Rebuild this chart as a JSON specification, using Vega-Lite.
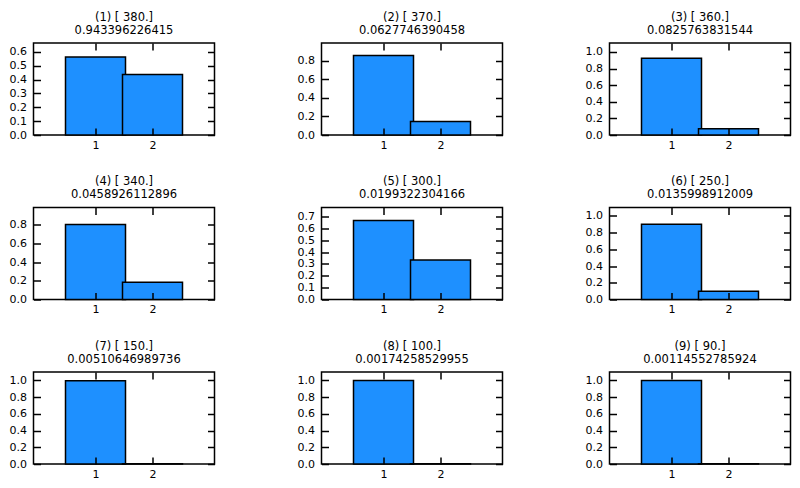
{
  "$schema": "https://vega.github.io/schema/vega-lite/v6.json",
  "padding": {"left": 7.5, "top": 11, "right": 0, "bottom": 0},
  "background": "white",
  "datasets": {
    "bars": [
      {"panel": 1, "x": 1, "p": 0.563}, {"panel": 1, "x": 2, "p": 0.437},
      {"panel": 2, "x": 1, "p": 0.855}, {"panel": 2, "x": 2, "p": 0.145},
      {"panel": 3, "x": 1, "p": 0.925}, {"panel": 3, "x": 2, "p": 0.075},
      {"panel": 4, "x": 1, "p": 0.805}, {"panel": 4, "x": 2, "p": 0.185},
      {"panel": 5, "x": 1, "p": 0.667}, {"panel": 5, "x": 2, "p": 0.333},
      {"panel": 6, "x": 1, "p": 0.9}, {"panel": 6, "x": 2, "p": 0.1},
      {"panel": 7, "x": 1, "p": 0.996}, {"panel": 7, "x": 2, "p": 0.004},
      {"panel": 8, "x": 1, "p": 0.998}, {"panel": 8, "x": 2, "p": 0.002},
      {"panel": 9, "x": 1, "p": 0.998}, {"panel": 9, "x": 2, "p": 0.002}
    ]
  },
  "config": {
    "font": "DejaVu Sans",
    "view": {"stroke": "black", "strokeWidth": 1.5},
    "axis": {"domain": false, "grid": false, "labelFont": "DejaVu Sans", "labelFontSize": 11, "labelColor": "black", "title": null},
    "title": {"font": "DejaVu Sans", "fontSize": 11.5, "fontWeight": "normal", "color": "black", "lineHeight": 13, "offset": 6, "anchor": "middle"}
  },
  "columns": 3,
  "spacing": {"row": 72.5, "column": 107},
  "bounds": "flush",
  "concat": [
    {"title": {"text": ["(1) [ 380.]", "0.943396226415"]}, "width": 181, "height": 92, "data": {"name": "bars"}, "transform": [{"filter": "datum.panel == 1"}],
     "layer": [
      {"mark": {"type": "bar", "width": 60, "fill": "#1E90FF", "stroke": "black", "strokeWidth": 1.5},
       "encoding": {"x": {"field": "x", "type": "quantitative", "scale": {"domain": [0, 3], "nice": false}, "axis": {"values": [1, 2], "format": "d", "orient": "bottom", "ticks": true, "tickColor": "black", "tickSize": 7, "tickWidth": 1.5, "offset": -7, "labelPadding": 4, "zindex": 1}},
                    "y": {"field": "p", "type": "quantitative", "scale": {"domain": [0, 0.665], "nice": false}, "axis": {"values": [0, 0.1, 0.2, 0.3, 0.4, 0.5, 0.6], "format": ".1f", "orient": "left", "ticks": true, "tickColor": "black", "tickSize": 7, "tickWidth": 1.5, "offset": -7, "labelPadding": 7, "zindex": 1}}}},
      {"mark": {"type": "bar", "width": 60, "opacity": 0},
       "encoding": {"x": {"field": "x", "type": "quantitative", "axis": {"values": [1, 2], "labels": false, "orient": "top", "ticks": true, "tickColor": "black", "tickSize": 7, "tickWidth": 1.5, "offset": -7, "zindex": 1}},
                    "y": {"field": "p", "type": "quantitative", "axis": {"values": [0, 0.1, 0.2, 0.3, 0.4, 0.5, 0.6], "labels": false, "orient": "right", "ticks": true, "tickColor": "black", "tickSize": 7, "tickWidth": 1.5, "offset": -7, "zindex": 1}}}}
     ], "resolve": {"axis": {"x": "independent", "y": "independent"}}},
    {"title": {"text": ["(2) [ 370.]", "0.0627746390458"]}, "width": 181, "height": 92, "data": {"name": "bars"}, "transform": [{"filter": "datum.panel == 2"}],
     "layer": [
      {"mark": {"type": "bar", "width": 60, "fill": "#1E90FF", "stroke": "black", "strokeWidth": 1.5},
       "encoding": {"x": {"field": "x", "type": "quantitative", "scale": {"domain": [0, 3], "nice": false}, "axis": {"values": [1, 2], "format": "d", "orient": "bottom", "ticks": true, "tickColor": "black", "tickSize": 7, "tickWidth": 1.5, "offset": -7, "labelPadding": 4, "zindex": 1}},
                    "y": {"field": "p", "type": "quantitative", "scale": {"domain": [0, 0.99], "nice": false}, "axis": {"values": [0, 0.2, 0.4, 0.6, 0.8], "format": ".1f", "orient": "left", "ticks": true, "tickColor": "black", "tickSize": 7, "tickWidth": 1.5, "offset": -7, "labelPadding": 7, "zindex": 1}}}},
      {"mark": {"type": "bar", "width": 60, "opacity": 0},
       "encoding": {"x": {"field": "x", "type": "quantitative", "axis": {"values": [1, 2], "labels": false, "orient": "top", "ticks": true, "tickColor": "black", "tickSize": 7, "tickWidth": 1.5, "offset": -7, "zindex": 1}},
                    "y": {"field": "p", "type": "quantitative", "axis": {"values": [0, 0.2, 0.4, 0.6, 0.8], "labels": false, "orient": "right", "ticks": true, "tickColor": "black", "tickSize": 7, "tickWidth": 1.5, "offset": -7, "zindex": 1}}}}
     ], "resolve": {"axis": {"x": "independent", "y": "independent"}}},
    {"title": {"text": ["(3) [ 360.]", "0.0825763831544"]}, "width": 181, "height": 92, "data": {"name": "bars"}, "transform": [{"filter": "datum.panel == 3"}],
     "layer": [
      {"mark": {"type": "bar", "width": 60, "fill": "#1E90FF", "stroke": "black", "strokeWidth": 1.5},
       "encoding": {"x": {"field": "x", "type": "quantitative", "scale": {"domain": [0, 3], "nice": false}, "axis": {"values": [1, 2], "format": "d", "orient": "bottom", "ticks": true, "tickColor": "black", "tickSize": 7, "tickWidth": 1.5, "offset": -7, "labelPadding": 4, "zindex": 1}},
                    "y": {"field": "p", "type": "quantitative", "scale": {"domain": [0, 1.108], "nice": false}, "axis": {"values": [0, 0.2, 0.4, 0.6, 0.8, 1.0], "format": ".1f", "orient": "left", "ticks": true, "tickColor": "black", "tickSize": 7, "tickWidth": 1.5, "offset": -7, "labelPadding": 7, "zindex": 1}}}},
      {"mark": {"type": "bar", "width": 60, "opacity": 0},
       "encoding": {"x": {"field": "x", "type": "quantitative", "axis": {"values": [1, 2], "labels": false, "orient": "top", "ticks": true, "tickColor": "black", "tickSize": 7, "tickWidth": 1.5, "offset": -7, "zindex": 1}},
                    "y": {"field": "p", "type": "quantitative", "axis": {"values": [0, 0.2, 0.4, 0.6, 0.8, 1.0], "labels": false, "orient": "right", "ticks": true, "tickColor": "black", "tickSize": 7, "tickWidth": 1.5, "offset": -7, "zindex": 1}}}}
     ], "resolve": {"axis": {"x": "independent", "y": "independent"}}},
    {"title": {"text": ["(4) [ 340.]", "0.0458926112896"]}, "width": 181, "height": 92, "data": {"name": "bars"}, "transform": [{"filter": "datum.panel == 4"}],
     "layer": [
      {"mark": {"type": "bar", "width": 60, "fill": "#1E90FF", "stroke": "black", "strokeWidth": 1.5},
       "encoding": {"x": {"field": "x", "type": "quantitative", "scale": {"domain": [0, 3], "nice": false}, "axis": {"values": [1, 2], "format": "d", "orient": "bottom", "ticks": true, "tickColor": "black", "tickSize": 7, "tickWidth": 1.5, "offset": -7, "labelPadding": 4, "zindex": 1}},
                    "y": {"field": "p", "type": "quantitative", "scale": {"domain": [0, 0.987], "nice": false}, "axis": {"values": [0, 0.2, 0.4, 0.6, 0.8], "format": ".1f", "orient": "left", "ticks": true, "tickColor": "black", "tickSize": 7, "tickWidth": 1.5, "offset": -7, "labelPadding": 7, "zindex": 1}}}},
      {"mark": {"type": "bar", "width": 60, "opacity": 0},
       "encoding": {"x": {"field": "x", "type": "quantitative", "axis": {"values": [1, 2], "labels": false, "orient": "top", "ticks": true, "tickColor": "black", "tickSize": 7, "tickWidth": 1.5, "offset": -7, "zindex": 1}},
                    "y": {"field": "p", "type": "quantitative", "axis": {"values": [0, 0.2, 0.4, 0.6, 0.8], "labels": false, "orient": "right", "ticks": true, "tickColor": "black", "tickSize": 7, "tickWidth": 1.5, "offset": -7, "zindex": 1}}}}
     ], "resolve": {"axis": {"x": "independent", "y": "independent"}}},
    {"title": {"text": ["(5) [ 300.]", "0.0199322304166"]}, "width": 181, "height": 92, "data": {"name": "bars"}, "transform": [{"filter": "datum.panel == 5"}],
     "layer": [
      {"mark": {"type": "bar", "width": 60, "fill": "#1E90FF", "stroke": "black", "strokeWidth": 1.5},
       "encoding": {"x": {"field": "x", "type": "quantitative", "scale": {"domain": [0, 3], "nice": false}, "axis": {"values": [1, 2], "format": "d", "orient": "bottom", "ticks": true, "tickColor": "black", "tickSize": 7, "tickWidth": 1.5, "offset": -7, "labelPadding": 4, "zindex": 1}},
                    "y": {"field": "p", "type": "quantitative", "scale": {"domain": [0, 0.777], "nice": false}, "axis": {"values": [0, 0.1, 0.2, 0.3, 0.4, 0.5, 0.6, 0.7], "format": ".1f", "orient": "left", "ticks": true, "tickColor": "black", "tickSize": 7, "tickWidth": 1.5, "offset": -7, "labelPadding": 7, "zindex": 1}}}},
      {"mark": {"type": "bar", "width": 60, "opacity": 0},
       "encoding": {"x": {"field": "x", "type": "quantitative", "axis": {"values": [1, 2], "labels": false, "orient": "top", "ticks": true, "tickColor": "black", "tickSize": 7, "tickWidth": 1.5, "offset": -7, "zindex": 1}},
                    "y": {"field": "p", "type": "quantitative", "axis": {"values": [0, 0.1, 0.2, 0.3, 0.4, 0.5, 0.6, 0.7], "labels": false, "orient": "right", "ticks": true, "tickColor": "black", "tickSize": 7, "tickWidth": 1.5, "offset": -7, "zindex": 1}}}}
     ], "resolve": {"axis": {"x": "independent", "y": "independent"}}},
    {"title": {"text": ["(6) [ 250.]", "0.0135998912009"]}, "width": 181, "height": 92, "data": {"name": "bars"}, "transform": [{"filter": "datum.panel == 6"}],
     "layer": [
      {"mark": {"type": "bar", "width": 60, "fill": "#1E90FF", "stroke": "black", "strokeWidth": 1.5},
       "encoding": {"x": {"field": "x", "type": "quantitative", "scale": {"domain": [0, 3], "nice": false}, "axis": {"values": [1, 2], "format": "d", "orient": "bottom", "ticks": true, "tickColor": "black", "tickSize": 7, "tickWidth": 1.5, "offset": -7, "labelPadding": 4, "zindex": 1}},
                    "y": {"field": "p", "type": "quantitative", "scale": {"domain": [0, 1.1], "nice": false}, "axis": {"values": [0, 0.2, 0.4, 0.6, 0.8, 1.0], "format": ".1f", "orient": "left", "ticks": true, "tickColor": "black", "tickSize": 7, "tickWidth": 1.5, "offset": -7, "labelPadding": 7, "zindex": 1}}}},
      {"mark": {"type": "bar", "width": 60, "opacity": 0},
       "encoding": {"x": {"field": "x", "type": "quantitative", "axis": {"values": [1, 2], "labels": false, "orient": "top", "ticks": true, "tickColor": "black", "tickSize": 7, "tickWidth": 1.5, "offset": -7, "zindex": 1}},
                    "y": {"field": "p", "type": "quantitative", "axis": {"values": [0, 0.2, 0.4, 0.6, 0.8, 1.0], "labels": false, "orient": "right", "ticks": true, "tickColor": "black", "tickSize": 7, "tickWidth": 1.5, "offset": -7, "zindex": 1}}}}
     ], "resolve": {"axis": {"x": "independent", "y": "independent"}}},
    {"title": {"text": ["(7) [ 150.]", "0.00510646989736"]}, "width": 181, "height": 92, "data": {"name": "bars"}, "transform": [{"filter": "datum.panel == 7"}],
     "layer": [
      {"mark": {"type": "bar", "width": 60, "fill": "#1E90FF", "stroke": "black", "strokeWidth": 1.5},
       "encoding": {"x": {"field": "x", "type": "quantitative", "scale": {"domain": [0, 3], "nice": false}, "axis": {"values": [1, 2], "format": "d", "orient": "bottom", "ticks": true, "tickColor": "black", "tickSize": 7, "tickWidth": 1.5, "offset": -7, "labelPadding": 4, "zindex": 1}},
                    "y": {"field": "p", "type": "quantitative", "scale": {"domain": [0, 1.1], "nice": false}, "axis": {"values": [0, 0.2, 0.4, 0.6, 0.8, 1.0], "format": ".1f", "orient": "left", "ticks": true, "tickColor": "black", "tickSize": 7, "tickWidth": 1.5, "offset": -7, "labelPadding": 7, "zindex": 1}}}},
      {"mark": {"type": "bar", "width": 60, "opacity": 0},
       "encoding": {"x": {"field": "x", "type": "quantitative", "axis": {"values": [1, 2], "labels": false, "orient": "top", "ticks": true, "tickColor": "black", "tickSize": 7, "tickWidth": 1.5, "offset": -7, "zindex": 1}},
                    "y": {"field": "p", "type": "quantitative", "axis": {"values": [0, 0.2, 0.4, 0.6, 0.8, 1.0], "labels": false, "orient": "right", "ticks": true, "tickColor": "black", "tickSize": 7, "tickWidth": 1.5, "offset": -7, "zindex": 1}}}}
     ], "resolve": {"axis": {"x": "independent", "y": "independent"}}},
    {"title": {"text": ["(8) [ 100.]", "0.00174258529955"]}, "width": 181, "height": 92, "data": {"name": "bars"}, "transform": [{"filter": "datum.panel == 8"}],
     "layer": [
      {"mark": {"type": "bar", "width": 60, "fill": "#1E90FF", "stroke": "black", "strokeWidth": 1.5},
       "encoding": {"x": {"field": "x", "type": "quantitative", "scale": {"domain": [0, 3], "nice": false}, "axis": {"values": [1, 2], "format": "d", "orient": "bottom", "ticks": true, "tickColor": "black", "tickSize": 7, "tickWidth": 1.5, "offset": -7, "labelPadding": 4, "zindex": 1}},
                    "y": {"field": "p", "type": "quantitative", "scale": {"domain": [0, 1.1], "nice": false}, "axis": {"values": [0, 0.2, 0.4, 0.6, 0.8, 1.0], "format": ".1f", "orient": "left", "ticks": true, "tickColor": "black", "tickSize": 7, "tickWidth": 1.5, "offset": -7, "labelPadding": 7, "zindex": 1}}}},
      {"mark": {"type": "bar", "width": 60, "opacity": 0},
       "encoding": {"x": {"field": "x", "type": "quantitative", "axis": {"values": [1, 2], "labels": false, "orient": "top", "ticks": true, "tickColor": "black", "tickSize": 7, "tickWidth": 1.5, "offset": -7, "zindex": 1}},
                    "y": {"field": "p", "type": "quantitative", "axis": {"values": [0, 0.2, 0.4, 0.6, 0.8, 1.0], "labels": false, "orient": "right", "ticks": true, "tickColor": "black", "tickSize": 7, "tickWidth": 1.5, "offset": -7, "zindex": 1}}}}
     ], "resolve": {"axis": {"x": "independent", "y": "independent"}}},
    {"title": {"text": ["(9) [ 90.]", "0.00114552785924"]}, "width": 181, "height": 92, "data": {"name": "bars"}, "transform": [{"filter": "datum.panel == 9"}],
     "layer": [
      {"mark": {"type": "bar", "width": 60, "fill": "#1E90FF", "stroke": "black", "strokeWidth": 1.5},
       "encoding": {"x": {"field": "x", "type": "quantitative", "scale": {"domain": [0, 3], "nice": false}, "axis": {"values": [1, 2], "format": "d", "orient": "bottom", "ticks": true, "tickColor": "black", "tickSize": 7, "tickWidth": 1.5, "offset": -7, "labelPadding": 4, "zindex": 1}},
                    "y": {"field": "p", "type": "quantitative", "scale": {"domain": [0, 1.1], "nice": false}, "axis": {"values": [0, 0.2, 0.4, 0.6, 0.8, 1.0], "format": ".1f", "orient": "left", "ticks": true, "tickColor": "black", "tickSize": 7, "tickWidth": 1.5, "offset": -7, "labelPadding": 7, "zindex": 1}}}},
      {"mark": {"type": "bar", "width": 60, "opacity": 0},
       "encoding": {"x": {"field": "x", "type": "quantitative", "axis": {"values": [1, 2], "labels": false, "orient": "top", "ticks": true, "tickColor": "black", "tickSize": 7, "tickWidth": 1.5, "offset": -7, "zindex": 1}},
                    "y": {"field": "p", "type": "quantitative", "axis": {"values": [0, 0.2, 0.4, 0.6, 0.8, 1.0], "labels": false, "orient": "right", "ticks": true, "tickColor": "black", "tickSize": 7, "tickWidth": 1.5, "offset": -7, "zindex": 1}}}}
     ], "resolve": {"axis": {"x": "independent", "y": "independent"}}}
  ]
}
